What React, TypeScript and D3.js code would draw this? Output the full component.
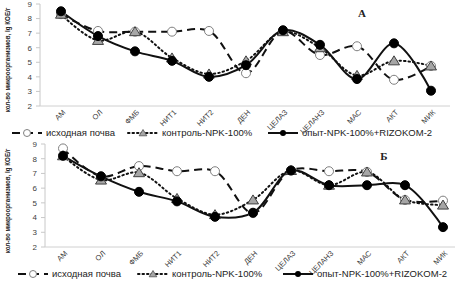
import React from "react";
import * as d3 from "d3";

const categories = ["АМ", "ОЛ", "ФМБ", "НИТ1", "НИТ2", "ДЕН", "ЦЕЛАЗ", "ЦЕЛАНЗ", "МАС", "АКТ", "МИК"];
const yTicks = [2, 3, 4, 5, 6, 7, 8, 9];
const seriesNames = ["исходная почва", "контроль-NPK-100%", "опыт-NPK-100%+RIZOKOM-2"];

// Panel A
const a_initial = [8.3, 7.15, 7.1, 7.1, 7.15, 4.25, 7.15, 5.5, 6.1, 3.8, 4.75];
const a_control = [8.3, 6.5, 7.1, 5.3, 4.2, 5.1, 7.1, 6.0, 4.1, 5.1, 4.75];
const a_experiment = [8.5, 6.8, 5.75, 5.1, 4.0, 4.8, 7.2, 6.2, 3.85, 6.3, 3.05];

// Panel Б
const b_initial = [8.7, 6.8, 7.5, 7.15, 7.15, 4.3, 7.2, 7.15, 7.1, 5.2, 5.15];
const b_control = [8.2, 6.55, 7.05, 5.3, 4.2, 5.2, 7.2, 6.2, 7.1, 5.2, 4.85];
const b_experiment = [8.2, 6.8, 5.75, 5.1, 4.05, 4.33, 7.2, 6.2, 6.2, 6.2, 3.35];

const FONT = "'Liberation Sans', Arial, sans-serif";

type PanelProps = {
  x0: number; x1: number; axisX: number; axisEnd: number;
  yTop: number; yBottom: number;
  initial: number[]; control: number[]; experiment: number[];
  label: string; labelX: number; labelY: number;
  legendY: number; legendX: number[];
  titleY: number;
};

function Triangle({ cx, cy }: { cx: number; cy: number }) {
  const p = d3.path();
  p.moveTo(cx, cy - 5);
  p.lineTo(cx + 5.5, cy + 4);
  p.lineTo(cx - 5.5, cy + 4);
  p.closePath();
  return <path d={p.toString()} fill="#a6a6a6" stroke="#404040" strokeWidth={1} />;
}

function Panel(props: PanelProps) {
  const x = d3.scaleBand<string>().domain(categories).range([props.x0, props.x1]);
  const y = d3.scaleLinear().domain([2, 9]).range([props.yBottom, props.yTop]);
  const cx = (c: string) => (x(c) as number) + x.bandwidth() / 2;
  const line = d3
    .line<number>()
    .x((_, i) => cx(categories[i]))
    .y((d) => y(d))
    .curve(d3.curveCatmullRom.alpha(0.5));
  const lx = props.legendX;
  const ly = props.legendY;
  return (
    <g>
      <line x1={props.axisX} x2={props.axisX} y1={props.yTop} y2={props.yBottom} stroke="#c8c8c8" strokeWidth={1} />
      {yTicks.map((t) => (
        <g key={t}>
          <line x1={props.axisX - 4} x2={props.axisX} y1={y(t)} y2={y(t)} stroke="#c8c8c8" />
          <text x={props.axisX - 8} y={y(t)} dy="0.35em" textAnchor="end" fontSize={8} fontFamily={FONT} fill="#404040">
            {t}
          </text>
        </g>
      ))}
      <line x1={props.axisX} x2={props.axisEnd} y1={props.yBottom} y2={props.yBottom} stroke="#d0d0d0" strokeWidth={1} />
      {categories.map((c) => (
        <text
          key={c}
          transform={`translate(${cx(c) + 3},${props.yBottom + 5}) rotate(-45)`}
          textAnchor="end"
          dy="0.35em"
          fontSize={7.5}
          fontFamily={FONT}
          fill="#404040"
        >
          {c}
        </text>
      ))}
      <text
        transform={`translate(10,${props.titleY}) rotate(-90) scale(1,1.25)`}
        textAnchor="middle"
        fontSize={6.2}
        fontWeight={600}
        fontFamily={FONT}
        fill="#222"
      >
        кол-во микроорганизмов, lg КОЕ/г
      </text>
      <text x={props.labelX} y={props.labelY} dy="0.35em" textAnchor="middle" fontSize={11} fontWeight="bold" fontFamily="'Liberation Serif', 'Times New Roman', serif" fill="#222">
        {props.label}
      </text>
      <path d={line(props.initial) || ""} fill="none" stroke="#111" strokeWidth={2} strokeDasharray="8,5" />
      <path d={line(props.control) || ""} fill="none" stroke="#111" strokeWidth={2} strokeDasharray="1.5,3" strokeLinecap="round" />
      <path d={line(props.experiment) || ""} fill="none" stroke="#111" strokeWidth={2} />
      {props.initial.map((v, i) => (
        <circle key={"i" + i} cx={cx(categories[i])} cy={y(v)} r={4.5} fill="#fff" stroke="#7f7f7f" strokeWidth={1} />
      ))}
      {props.control.map((v, i) => (
        <Triangle key={"c" + i} cx={cx(categories[i])} cy={y(v)} />
      ))}
      {props.experiment.map((v, i) => (
        <circle key={"e" + i} cx={cx(categories[i])} cy={y(v)} r={4.5} fill="#000" stroke="#000" strokeWidth={1} />
      ))}
      <line x1={lx[0]} x2={lx[0] + 30} y1={ly} y2={ly} stroke="#111" strokeWidth={2} strokeDasharray="8,5" />
      <circle cx={lx[0] + 15} cy={ly} r={3.5} fill="#fff" stroke="#7f7f7f" />
      <text x={lx[0] + 34} y={ly} dy="0.35em" fontSize={9.5} fontFamily={FONT} fill="#222">{seriesNames[0]}</text>
      <line x1={lx[1]} x2={lx[1] + 30} y1={ly} y2={ly} stroke="#111" strokeWidth={2} strokeDasharray="1.5,3" strokeLinecap="round" />
      <g transform={`translate(${lx[1] + 15},${ly}) scale(0.7)`}>
        <Triangle cx={0} cy={0} />
      </g>
      <text x={lx[1] + 34} y={ly} dy="0.35em" fontSize={9.5} fontFamily={FONT} fill="#222">{seriesNames[1]}</text>
      <line x1={lx[2]} x2={lx[2] + 30} y1={ly} y2={ly} stroke="#111" strokeWidth={2} />
      <circle cx={lx[2] + 15} cy={ly} r={3} fill="#000" />
      <text x={lx[2] + 34} y={ly} dy="0.35em" fontSize={9.5} fontFamily={FONT} fill="#222">{seriesNames[2]}</text>
    </g>
  );
}

export default function App() {
  return (
    <svg width={462} height={282} style={{ position: "absolute", left: 0, top: 0, background: "#fff" }}>
      <rect width={462} height={282} fill="#fff" />
      <Panel
        x0={42.5} x1={449.5} axisX={40} axisEnd={450}
        yTop={4} yBottom={106}
        initial={a_initial} control={a_control} experiment={a_experiment}
        label="А" labelX={362} labelY={13}
        legendY={133} legendX={[12, 128, 268]}
        titleY={60}
      />
      <Panel
        x0={44} x1={462} axisX={45} axisEnd={455}
        yTop={144} yBottom={247}
        initial={b_initial} control={b_control} experiment={b_experiment}
        label="Б" labelX={384} labelY={156}
        legendY={274} legendX={[18, 138, 283]}
        titleY={201}
      />
    </svg>
  );
}
